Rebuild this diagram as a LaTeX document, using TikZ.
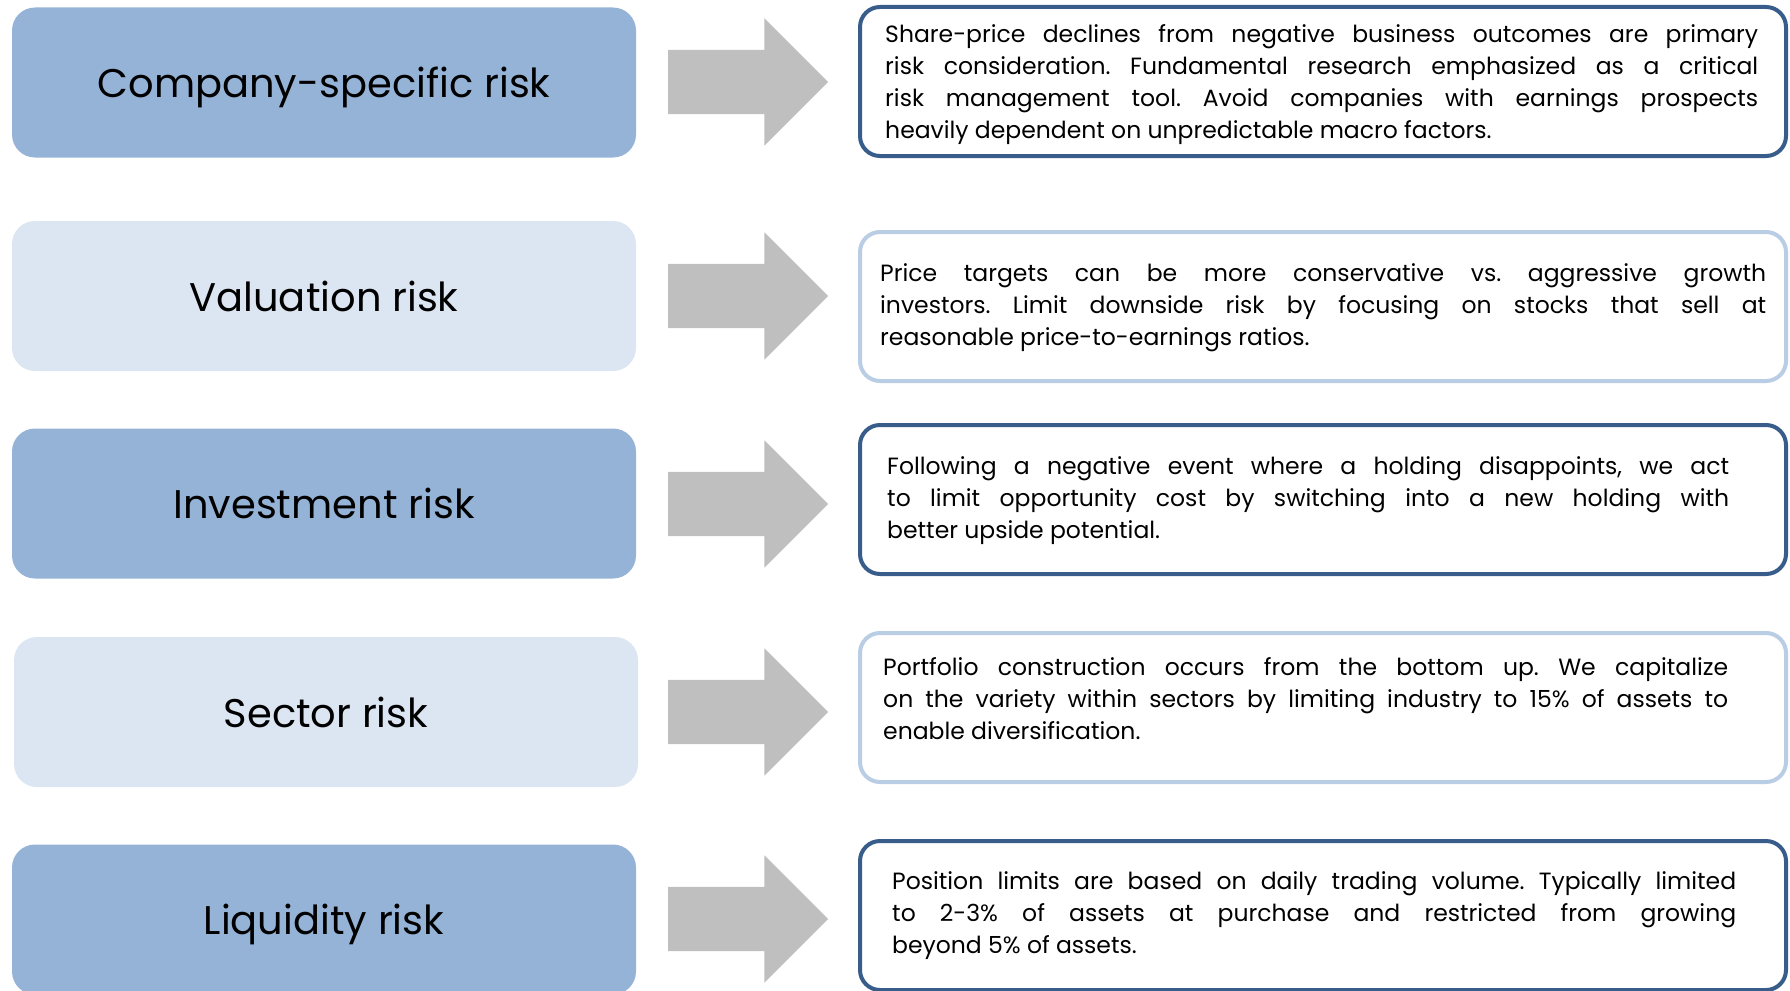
\documentclass[tikz,border=0pt]{standalone}
\usepackage{fontspec}
\setmainfont{Poppins}
\usepackage{xcolor}
\usepackage{tikz}
\usetikzlibrary{positioning, shapes.arrows}

\definecolor{azulescuro}{HTML}{95B3D7}
\definecolor{azulclaro}{HTML}{DCE6F2}
\definecolor{bordaescura}{HTML}{385D8A}
\definecolor{bordaclara}{HTML}{B9CDE5}
\definecolor{cinzaseta}{HTML}{BFBFBF}

\begin{document}
\frenchspacing
\hyphenpenalty=10000\relax
\exhyphenpenalty=10000\relax
\begin{tikzpicture}[x=1pt, y=-1pt,
  risco/.style={rectangle, rounded corners=23pt, minimum width=624pt, minimum height=150pt, text depth=0pt, text=black, font=\fontsize{40}{48}\selectfont},
  escuro/.style={fill=azulescuro},
  claro/.style={fill=azulclaro},
  seta/.style={single arrow, fill=cinzaseta, inner xsep=0pt, inner ysep=32pt, minimum height=160pt, single arrow head extend=31.5pt, single arrow tip angle=90},
  caixa/.style={rectangle, rounded corners=20pt, line width=4pt, fill=white, minimum width=926pt, minimum height=149pt},
  texto/.style={inner sep=0pt, align=justify, font=\fontsize{23.5}{32}\selectfont}]

% Fixando a area do desenho (1790 x 990):
\useasboundingbox (0,0) rectangle (1790,990);

% Primeira linha: risco especifico da empresa
\node[risco, escuro] (r1) at (324,82.5) {Company-specific risk};
\node[seta] (s1) at (732,82) {};
\node[caixa, draw=bordaescura] (c1) at (1323,81.5) {};
\node[texto, text width=873pt, right=27pt of c1.west, yshift=-3.5pt] (t1) {Share-price declines from negative business outcomes are primary\linebreak risk consideration. Fundamental research emphasized as a critical\linebreak risk management tool. Avoid companies with earnings prospects\linebreak heavily dependent on unpredictable macro factors.};

% Segunda linha: risco de valuation
\node[risco, claro] (r2) at (324,296) {Valuation risk};
\node[seta] (s2) at (732,296) {};
\node[caixa, draw=bordaclara] (c2) at (1323,306.5) {};
\node[texto, text width=886pt, right=22pt of c2.west, yshift=-1pt] (t2) {Price targets can be more conservative vs. aggressive growth\linebreak investors. Limit downside risk by focusing on stocks that sell at\linebreak reasonable price-to-earnings ratios.};

% Terceira linha: risco de investimento
\node[risco, escuro] (r3) at (324,503.5) {Investment risk};
\node[seta] (s3) at (732,504) {};
\node[caixa, draw=bordaescura] (c3) at (1323,499.5) {};
\node[texto, text width=842pt, right=29pt of c3.west, yshift=-1pt] (t3) {Following a negative event where a holding disappoints, we act\linebreak to limit opportunity cost by switching into a new holding with\linebreak better upside potential.};

% Quarta linha: risco setorial
\node[risco, claro] (r4) at (326,712) {Sector risk};
\node[seta] (s4) at (732,712) {};
\node[caixa, draw=bordaclara] (c4) at (1323,707.5) {};
\node[texto, text width=845pt, right=25pt of c4.west, yshift=9pt] (t4) {Portfolio construction occurs from the bottom up. We capitalize\linebreak on the variety within sectors by limiting industry to 15\% of assets to\linebreak enable diversification.};

% Quinta linha: risco de liquidez
\node[risco, escuro] (r5) at (324,919.5) {Liquidity risk};
\node[seta] (s5) at (732,919) {};
\node[caixa, draw=bordaescura] (c5) at (1323,915.5) {};
\node[texto, text width=844pt, right=34pt of c5.west] (t5) {Position limits are based on daily trading volume. Typically limited\linebreak to 2-3\% of assets at purchase and restricted from growing\linebreak beyond 5\% of assets.};
\end{tikzpicture}
\end{document}
